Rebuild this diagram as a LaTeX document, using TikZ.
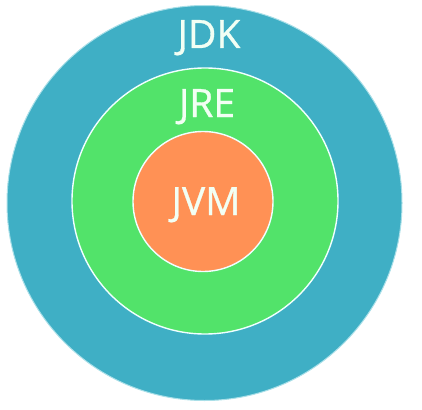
\documentclass[tikz,border=0pt]{standalone}
\usepackage{fontspec}
\setmainfont{Open Sans}[FakeBold=0.8]
\definecolor{jdkcol}{HTML}{3FAFC5}
\definecolor{jrecol}{HTML}{52E36A}
\definecolor{jvmcol}{HTML}{FF9155}
\definecolor{txtcol}{HTML}{F2FFF4}
\definecolor{rimcol}{HTML}{F0FFFF}
\tikzset{
  ring/.style={circle, inner sep=0pt, draw=rimcol, line width=1.4pt},
  lbl/.style={text=txtcol, font=\fontsize{39}{39}\selectfont, inner sep=0pt, anchor=base}
}
\begin{document}
\begin{tikzpicture}[x=1pt,y=-1pt]
\useasboundingbox (0,0) rectangle (422,409);
\node[ring, fill=jdkcol, draw=rimcol!60!jdkcol, line width=1pt, minimum size=395pt] (jdk) at (204.5,203) {};
\node[ring, fill=jrecol, minimum size=266pt] (jre) at (205,201) {};
\node[ring, fill=jvmcol, minimum size=140pt] (jvm) at (203,201.5) {};
\node[lbl] (jdktxt) at (209,48) {JDK};
\node[lbl] (jretxt) at (207,117) {JRE};
\node[lbl] (jvmtxt) at (206,215) {JVM};
\end{tikzpicture}
\end{document}
